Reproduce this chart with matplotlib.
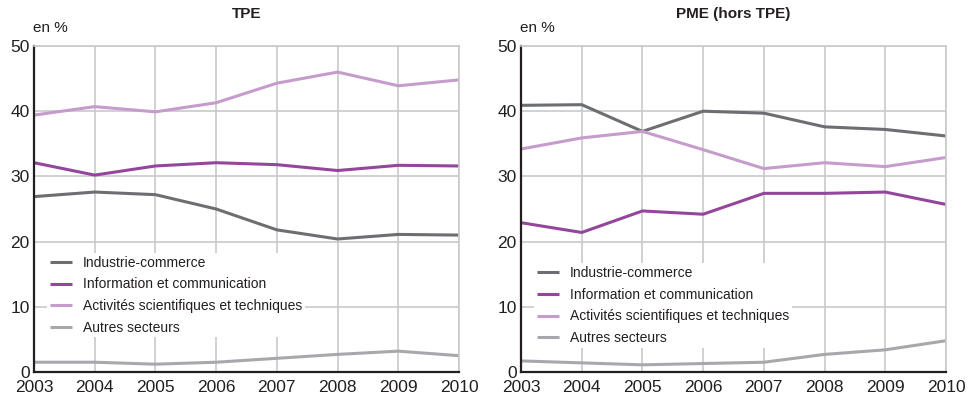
import matplotlib.pyplot as plt

years = [2003, 2004, 2005, 2006, 2007, 2008, 2009, 2010]
labels = ['Industrie-commerce', 'Information et communication',
          'Activités scientifiques et techniques', 'Autres secteurs']
colors = ['#6d6e71', '#93469b', '#c59ccc', '#a7a8ab']

# TPE
tpe_industrie = [26.9, 27.6, 27.2, 25.0, 21.8, 20.4, 21.1, 21.0]
tpe_info = [32.1, 30.2, 31.6, 32.1, 31.8, 30.9, 31.7, 31.6]
tpe_activites = [39.4, 40.7, 39.9, 41.3, 44.3, 46.0, 43.9, 44.8]
tpe_autres = [1.5, 1.5, 1.2, 1.5, 2.1, 2.7, 3.2, 2.5]

# PME (hors TPE)
pme_industrie = [40.9, 41.0, 36.9, 40.0, 39.7, 37.6, 37.2, 36.2]
pme_info = [22.9, 21.4, 24.7, 24.2, 27.4, 27.4, 27.6, 25.7]
pme_activites = [34.2, 35.9, 36.9, 34.1, 31.2, 32.1, 31.5, 32.9]
pme_autres = [1.7, 1.4, 1.1, 1.3, 1.5, 2.7, 3.4, 4.8]

plt.rcParams['font.family'] = ['Liberation Sans', 'DejaVu Sans']

fig = plt.figure(figsize=(9.72, 4.01), dpi=100)
W, H = 972, 401


def make_panel(left, title, series, legend_y):
    ax = fig.add_axes([left / W, 1 - 372 / H, 425 / W, 326 / H])
    for vals, lab, col in zip(series, labels, colors):
        ax.plot(years, vals, color=col, lw=2.2, label=lab, solid_capstyle='butt')
    ax.set_xlim(2003, 2010)
    ax.set_ylim(0, 50)
    ax.set_xticks(years)
    ax.set_yticks([0, 10, 20, 30, 40, 50])
    ax.grid(True, color='#c8c9cc', lw=1.2)
    ax.set_axisbelow(True)
    for s in ['top', 'right']:
        ax.spines[s].set_color('#c8c9cc')
        ax.spines[s].set_linewidth(1.2)
    for s in ['left', 'bottom']:
        ax.spines[s].set_color('#231f20')
        ax.spines[s].set_linewidth(1.6)
    ax.tick_params(length=0, labelsize=12.5, colors='#231f20')
    ax.tick_params(axis='x', pad=6)
    ax.tick_params(axis='y', pad=3)
    ax.set_title(title, fontsize=11, fontweight='bold', color='#231f20', pad=20)
    ax.text(-0.002, 1.035, 'en %', transform=ax.transAxes, fontsize=11,
            color='#231f20', ha='left', va='bottom')
    ax.legend(loc='upper left', bbox_to_anchor=(0.03, legend_y), fontsize=10,
              frameon=True, framealpha=1, edgecolor='none', fancybox=False,
              handlelength=1.6, handletextpad=0.8, labelspacing=0.55,
              borderpad=0.2, borderaxespad=0, labelcolor='#231f20')
    return ax


make_panel(34, 'TPE', [tpe_industrie, tpe_info, tpe_activites, tpe_autres], 0.365)
make_panel(521, 'PME (hors TPE)', [pme_industrie, pme_info, pme_activites, pme_autres], 0.333)

fig.savefig('out.png', dpi=100)
